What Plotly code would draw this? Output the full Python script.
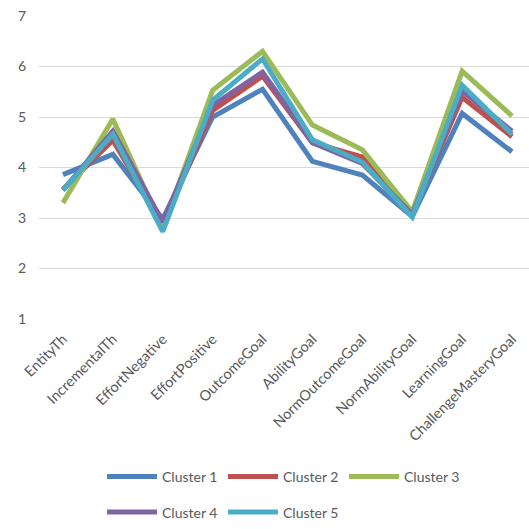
import plotly.graph_objects as go

categories = ["EntityTh", "IncrementalTh", "EffortNegative", "EffortPositive", "OutcomeGoal",
              "AbilityGoal", "NormOutcomeGoal", "NormAbilityGoal", "LearningGoal", "ChallengeMasteryGoal"]

cluster1 = [3.86, 4.26, 2.98, 5.00, 5.55, 4.12, 3.85, 3.03, 5.07, 4.31]
cluster2 = [3.57, 4.54, 2.86, 5.13, 5.81, 4.49, 4.21, 3.10, 5.39, 4.61]
cluster3 = [3.30, 4.96, 2.80, 5.53, 6.30, 4.84, 4.35, 3.12, 5.91, 5.02]
cluster4 = [3.55, 4.72, 2.92, 5.23, 5.89, 4.49, 4.08, 3.07, 5.52, 4.72]
cluster5 = [3.55, 4.66, 2.73, 5.33, 6.15, 4.55, 4.11, 3.02, 5.63, 4.66]

series_names = ["Cluster 1", "Cluster 2", "Cluster 3", "Cluster 4", "Cluster 5"]
series_values = [cluster1, cluster2, cluster3, cluster4, cluster5]
colors = ["#4F81BD", "#C0504D", "#9BBB59", "#8064A2", "#4BACC6"]
y_ticks = [1, 2, 3, 4, 5, 6, 7]

FONT = "Lato, 'Open Sans', sans-serif"
TXT = "#595959"

fig = go.Figure()
for i, (name, vals, col) in enumerate(zip(series_names, series_values, colors)):
    fig.add_trace(go.Scatter(
        x=list(range(len(categories))), y=vals, name=name, mode="lines",
        line=dict(color=col, width=5),
        legend="legend" if i < 3 else "legend2",
    ))

W, H = 529, 529
L, R, T, B = 39, 0, 16, 210
ph = H - T - B
pw = W - L - R

legend_common = dict(
    orientation="h", xanchor="left", yanchor="bottom",
    font=dict(family=FONT, size=14, color=TXT),
    entrywidth=56, entrywidthmode="pixels",
    bgcolor="rgba(0,0,0,0)", itemwidth=50, tracegroupgap=0,
)

fig.update_layout(
    width=W, height=H,
    margin=dict(l=L, r=R, t=T, b=B, pad=0),
    paper_bgcolor="white", plot_bgcolor="white",
    font=dict(family=FONT, size=13, color=TXT),
    showlegend=True,
    legend=dict(x=(102 - L) / pw, y=(T + ph - 493) / ph, **legend_common),
    legend2=dict(x=(102 - L) / pw, y=(T + ph - 528.5) / ph, **legend_common),
    xaxis=dict(
        range=[-0.48, 9.34],
        tickmode="array", tickvals=list(range(len(categories))), ticktext=categories,
        tickangle=-45, showgrid=False, zeroline=False, showline=False,
        ticks="outside", ticklen=5, tickcolor="rgba(0,0,0,0)",
        tickfont=dict(family=FONT, size=14.5, color=TXT),
    ),
    yaxis=dict(
        range=[1, 7], tickmode="array", tickvals=y_ticks,
        showgrid=True, gridcolor="#D9D9D9", gridwidth=1.3,
        zeroline=False, showline=False,
        ticklabelstandoff=12,
        tickfont=dict(family=FONT, size=14, color=TXT),
    ),
)

fig.write_html("out.html")
